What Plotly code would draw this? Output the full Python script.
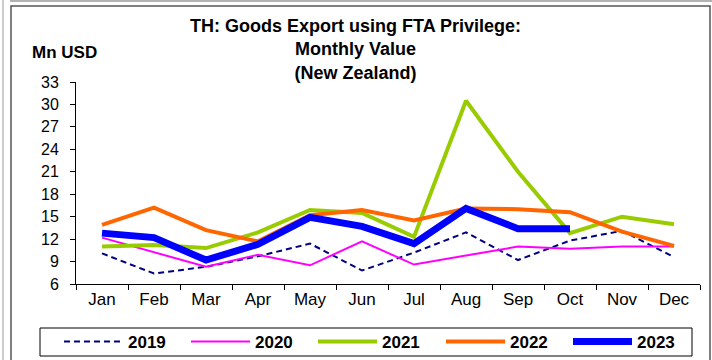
import plotly.graph_objects as go

months = ["Jan", "Feb", "Mar", "Apr", "May", "Jun",
          "Jul", "Aug", "Sep", "Oct", "Nov", "Dec"]

v2019 = [10.1, 7.4, 8.3, 9.7, 11.4, 7.8, 10.2, 12.9, 9.2, 11.8, 13.1, 9.6]
v2020 = [12.2, 10.3, 8.3, 9.9, 8.5, 11.7, 8.6, 9.8, 11.0, 10.7, 11.0, 11.0]
v2021 = [11.0, 11.2, 10.8, 12.9, 15.9, 15.5, 12.3, 30.5, 21.0, 12.8, 15.0, 14.0]
v2022 = [13.9, 16.2, 13.2, 11.7, 15.2, 15.9, 14.5, 16.1, 16.0, 15.6, 13.0, 11.1]
v2023 = [12.8, 12.2, 9.2, 11.3, 14.9, 13.7, 11.4, 16.1, 13.4, 13.4]

y_ticks = [6, 9, 12, 15, 18, 21, 24, 27, 30, 33]

title = "TH: Goods Export using FTA Privilege:<br>Monthly Value<br>(New Zealand)"

FONT = "Liberation Sans, Arial, sans-serif"

# name, values, colour, width, dash, which legend box
series = [
    ("2019", v2019, "#000080", 2, "6px,4px", "legend"),
    ("2020", v2020, "#FF00FF", 2, "solid", "legend"),
    ("2021", v2021, "#99CC00", 4, "solid", "legend"),
    ("2022", v2022, "#FF6600", 4, "solid", "legend2"),
    ("2023", v2023, "#0000FF", 7, "solid", "legend2"),
]

fig = go.Figure()
for name, vals, color, width, dash, leg in series:
    fig.add_trace(
        go.Scatter(
            x=months[: len(vals)],
            y=vals,
            mode="lines",
            name=name,
            legend=leg,
            line=dict(color=color, width=width, dash=dash),
        )
    )

# plot area in pixels: x 76..700, y 82..284
L, R, T, B = 76, 700, 82, 284
W, H = R - L, B - T


def px(x):
    return (x - L) / W


def py(y):
    return (B - y) / H


# legend split in two so it stays on one row, the border is drawn as a shape
legend_style = dict(
    orientation="h",
    y=py(342),
    xanchor="left",
    yanchor="middle",
    borderwidth=0,
    bgcolor="rgba(0,0,0,0)",
    itemwidth=59,
    entrywidth=53,
    entrywidthmode="pixels",
    font=dict(family=FONT, size=17, color="black", weight="bold"),
    traceorder="normal",
)

fig.update_layout(
    width=712,
    height=360,
    margin=dict(l=L, r=712 - R, t=T, b=360 - B, autoexpand=False),
    paper_bgcolor="white",
    plot_bgcolor="white",
    font=dict(family=FONT, size=15, color="black"),
    showlegend=True,
    legend=dict(x=px(59), **legend_style),
    legend2=dict(x=px(441), **legend_style),
    annotations=[
        dict(
            text=f"<b>{title}</b>",
            xref="paper", yref="paper",
            x=px(355), y=py(49),
            xanchor="center", yanchor="middle",
            showarrow=False,
            font=dict(family=FONT, size=18, color="black"),
        ),
        dict(
            text="<b>Mn USD</b>",
            xref="paper", yref="paper",
            x=px(64), y=py(52),
            xanchor="center", yanchor="middle",
            showarrow=False,
            font=dict(family=FONT, size=17, color="black"),
        ),
    ],
    shapes=[
        dict(type="line", xref="paper", yref="paper",
             x0=px(10), x1=px(712), y0=py(1), y1=py(1),
             line=dict(color="#999999", width=1.5)),
        dict(type="line", xref="paper", yref="paper",
             x0=px(3), x1=px(3), y0=py(0), y1=py(360),
             line=dict(color="#999999", width=1)),
        dict(type="rect", xref="paper", yref="paper",
             x0=px(11), x1=px(710), y0=py(6), y1=py(362),
             line=dict(color="#555555", width=1.5)),
        dict(type="rect", xref="paper", yref="paper",
             x0=px(40), x1=px(692), y0=py(328), y1=py(356),
             line=dict(color="black", width=1)),
    ],
)

fig.update_xaxes(
    type="category",
    categoryorder="array",
    categoryarray=months,
    range=[-0.5, 11.5],
    showline=True,
    linecolor="black",
    linewidth=1,
    ticks="outside",
    tickson="boundaries",
    ticklen=5,
    tickcolor="black",
    showgrid=False,
    zeroline=False,
    tickfont=dict(family=FONT, size=17),
)
fig.update_yaxes(
    range=[6, 33],
    tickvals=y_ticks,
    showline=True,
    linecolor="black",
    linewidth=1,
    ticks="outside",
    ticklen=5,
    tickcolor="black",
    ticklabelstandoff=8,
    showgrid=False,
    zeroline=False,
    tickfont=dict(family=FONT, size=16),
)

# page body has an 8px default margin, drop it so the figure sits at 0,0
fig.write_html(
    "out.html",
    config={"displayModeBar": False},
    post_script="document.body.style.margin='0';",
)
